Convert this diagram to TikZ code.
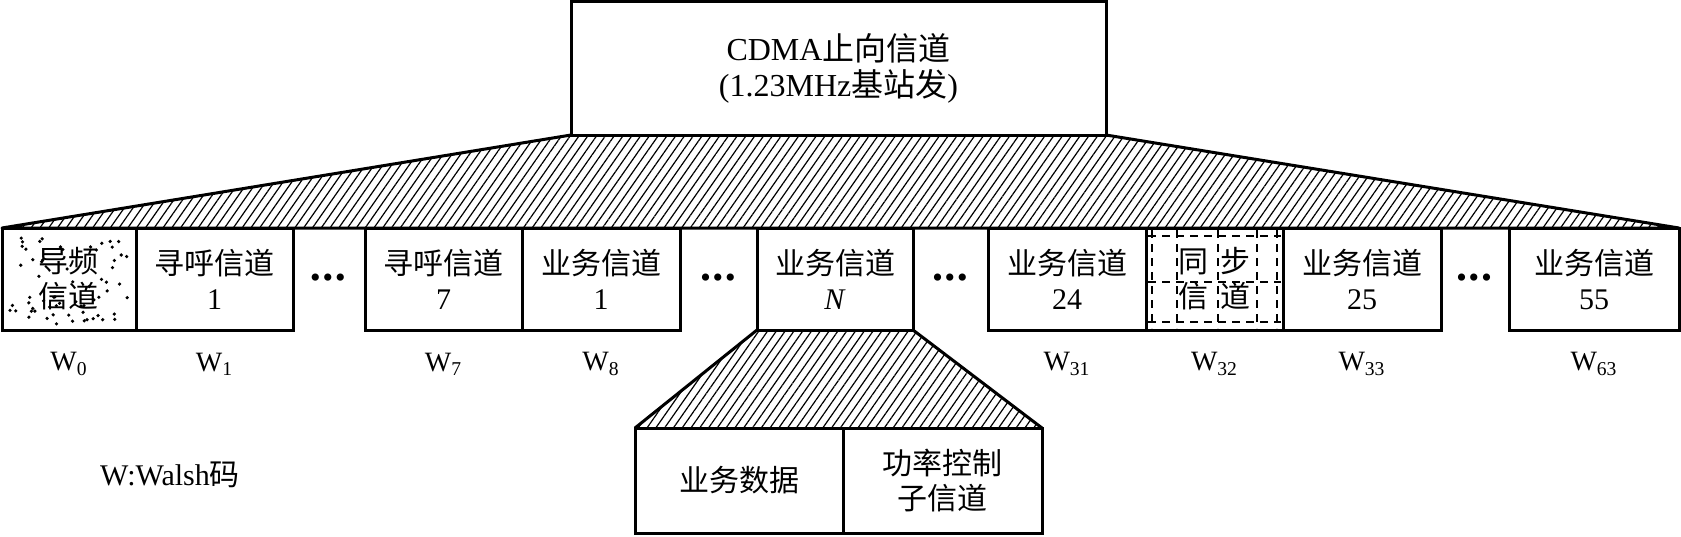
\documentclass[tikz,border=0pt]{standalone}
\usepackage{fontspec}
\setmainfont{Liberation Serif}
\newfontfamily\cjk{Noto Sans CJK SC}
\usepackage{tikz}
\usetikzlibrary{patterns.meta, calc}
\newcommand{\zhtext}[1]{{\cjk #1}}

\begin{document}
\begin{tikzpicture}[x=0.5pt, y=-0.5pt,
  box/.style={draw, line width=1.5pt, outer sep=0pt, inner sep=0pt, align=center,
    font=\fontsize{15}{17.5}\selectfont},
  chan/.style={box, minimum height=51pt},
  sub/.style={box, minimum height=52.5pt},
  wlab/.style={font=\fontsize{14}{16}\selectfont, yshift=-17pt},
  gap/.style={font=\fontsize{15}{17.5}\selectfont},
  hatch/.style={pattern={Lines[angle=55,distance=3.6pt,line width=0.6pt]}},
  edge/.style={line width=1.5pt, line join=round},
  gridline/.style={line width=0.7pt, dash pattern=on 4pt off 3pt}]
  \useasboundingbox (0,0) rectangle (1681,536);
  % forward channel
  \node[box, minimum width=267.5pt, minimum height=67pt, font=\fontsize{16}{18}\selectfont] (fwd) at (838.5,68)
    {CDMA\zhtext{止向信道}\\(1.23MHz\zhtext{基站发})};
  % channel row
  \node[chan, minimum width=67pt] (pilot) at (69,279) {\zhtext{导频}\\\zhtext{信道}};
  \node[chan, minimum width=78.5pt] (page1) at (214.5,279) {\zhtext{寻呼信道}\\1};
  \node[chan, minimum width=78.5pt] (page7) at (443.5,279) {\zhtext{寻呼信道}\\7};
  \node[chan, minimum width=79pt] (traf1) at (601,279) {\zhtext{业务信道}\\1};
  \node[chan, minimum width=78pt] (trafN) at (835,279) {\zhtext{业务信道}\\\textit{N}};
  \node[chan, minimum width=79pt] (traf24) at (1067,279) {\zhtext{业务信道}\\24};
  \node[chan, minimum width=68.5pt] (sync) at (1214.5,279) {\zhtext{同\hspace{6pt}步}\\\zhtext{信\hspace{6pt}道}};
  \node[chan, minimum width=79pt] (traf25) at (1362,279) {\zhtext{业务信道}\\25};
  \node[chan, minimum width=85pt] (traf55) at (1594,279) {\zhtext{业务信道}\\55};
  % gaps
  \node[gap] (dotsA) at (328,281) {\textbullet\hspace{1pt}\textbullet\hspace{1pt}\textbullet};
  \node[gap] (dotsB) at (718,281) {\textbullet\hspace{1pt}\textbullet\hspace{1pt}\textbullet};
  \node[gap] (dotsC) at (950,281) {\textbullet\hspace{1pt}\textbullet\hspace{1pt}\textbullet};
  \node[gap] (dotsD) at (1474,281) {\textbullet\hspace{1pt}\textbullet\hspace{1pt}\textbullet};
  % Walsh codes
  \node[wlab] (w0) at (pilot.south) {W\textsubscript{0}};
  \node[wlab] (w1) at (page1.south) {W\textsubscript{1}};
  \node[wlab] (w7) at (page7.south) {W\textsubscript{7}};
  \node[wlab] (w8) at (traf1.south) {W\textsubscript{8}};
  \node[wlab] (w31) at (traf24.south) {W\textsubscript{31}};
  \node[wlab] (w32) at (sync.south) {W\textsubscript{32}};
  \node[wlab] (w33) at (traf25.south) {W\textsubscript{33}};
  \node[wlab] (w63) at (traf55.south) {W\textsubscript{63}};
  % traffic channel split
  \node[sub, minimum width=104pt] (data) at (739,480.5) {\zhtext{业务数据}};
  \node[sub, minimum width=99.5pt] (pctl) at (942.5,480.5) {\zhtext{功率控制}\\\zhtext{子信道}};
  \node[font=\fontsize{15}{17.5}\selectfont] (note) at (170,475) {W:Walsh\zhtext{码}};
  % hatched fans
  \fill[hatch] (fwd.south west) -- (fwd.south east) -- (traf55.north east) -- (pilot.north west) -- cycle;
  \draw[edge] (fwd.south west) -- (pilot.north west) -- (traf55.north east) -- (fwd.south east);
  \fill[hatch] (trafN.south west) -- (trafN.south east) -- (pctl.north east) -- (data.north west) -- cycle;
  \draw[edge] (trafN.south west) -- (data.north west);
  \draw[edge] (trafN.south east) -- (pctl.north east);
  % pilot speckles
  \pgfmathsetseed{17}
  \foreach \k in {1,...,65}
    \fill ({8+122*rnd},{234+90*rnd}) circle (0.9pt);
  % sync grid
  \foreach \gx in {1152,1177,1218,1257,1277}
    \draw[gridline] (\gx,230) -- (\gx,328);
  \foreach \gy in {236,282,322}
    \draw[gridline] (1148,\gy) -- (1281,\gy);
\end{tikzpicture}
\end{document}
